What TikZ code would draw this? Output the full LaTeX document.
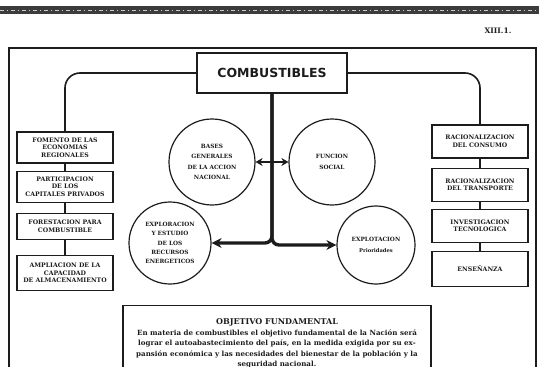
\documentclass[tikz,border=0pt]{standalone}
\usepackage{fontspec}
\setmainfont{DejaVu Serif}
\newfontfamily\ttlfont{DejaVu Sans}
\usetikzlibrary{arrows.meta, positioning}
\definecolor{cInk}{HTML}{1C1C1C}
\definecolor{cBand}{HTML}{3C3C3C}

\begin{document}
\begin{tikzpicture}[x=1pt, y=-1pt,
    nd/.style={draw=cInk, line width=1.2pt, align=center, inner sep=1pt,
               text=cInk, font=\fontsize{6.2}{7.6}\selectfont\bfseries},
    nleft/.style ={nd, minimum width=96pt, minimum height=31pt},
    nright/.style={nd, minimum width=96pt, minimum height=33pt},
    ncir/.style={nd, circle, minimum size=86pt, inner sep=0pt,
                 font=\fontsize{5.8}{10.5}\selectfont\bfseries},
    ln/.style={draw=cInk, line width=1.6pt},
    tr/.style={draw=cInk, line width=3.4pt, rounded corners=7pt,
               -{Stealth[length=10pt,width=10pt]}},
    ar/.style={draw=cInk, line width=2.6pt,
               {Stealth[length=7pt,width=8pt]}-{Stealth[length=7pt,width=8pt]}},
]
\useasboundingbox (0,0) rectangle (539,367);

% === page head: band and page number ===
\fill[cBand] (0,6) rectangle (539,14);
\draw[white!80!black, line width=0.8pt, dash pattern=on 4pt off 3pt on 1pt off 3pt] (0,10) -- (539,10);
\node[font=\fontsize{7.5}{8}\selectfont\bfseries, text=cInk] (pgno) at (498,31) {XIII.1.};

% outer frame (runs past the bottom edge)
\draw[cInk, line width=1.1pt] (9,390) -- (9,48) -- (536,48) -- (536,390);

% === TITLE ===
\node[nd, minimum width=150pt, minimum height=40pt,
      font=\ttlfont\bfseries\fontsize{12.5}{14}\selectfont] (comb) at (272,73) {COMBUSTIBLES};

% === LEFT COLUMN ===
\node[nleft] (l1) at (65,147.5) {FOMENTO DE LAS\\ECONOMIAS\\REGIONALES};
\node[nleft, below=7pt of l1] (l2) {PARTICIPACION\\DE LOS\\CAPITALES PRIVADOS};
\node[nleft, below=10pt of l2, minimum height=26pt] (l3) {FORESTACION PARA\\COMBUSTIBLE};
\node[nleft, below=15pt of l3, minimum height=35pt] (l4) {AMPLIACION DE LA\\CAPACIDAD\\DE ALMACENAMIENTO};

% === RIGHT COLUMN ===
\node[nright] (r1) at (480,141.5) {RACIONALIZACION\\DEL CONSUMO};
\node[nright, below=9pt of r1] (r2) {RACIONALIZACION\\DEL TRANSPORTE};
\node[nright, below=7pt of r2] (r3) {INVESTIGACION\\TECNOLOGICA};
\node[nright, below=8pt of r3, minimum height=35pt] (r4) {ENSEÑANZA};

\draw[ln, rounded corners=15pt] (comb.west) -| (l1.north);
\draw[ln, rounded corners=15pt] (comb.east) -| (r1.north);
\draw[ln] (l1) -- (l2);
\draw[ln] (l2) -- (l3);
\draw[ln] (l3) -- (l4);
\draw[ln] (r1) -- (r2);
\draw[ln] (r2) -- (r3);
\draw[ln] (r3) -- (r4);

% === CIRCLES ===
\node[ncir] (bases) at (212,162) {BASES\\GENERALES\\DE LA ACCION\\NACIONAL};
\node[ncir] (func) at (332,162) {FUNCION\\SOCIAL};
\node[ncir, minimum size=82pt, font=\fontsize{5.8}{9.4}\selectfont\bfseries]
    (expl) at (170,243) {EXPLORACION\\Y ESTUDIO\\DE LOS\\RECURSOS\\ENERGETICOS};
\node[ncir, minimum size=78pt, font=\fontsize{5.8}{11}\selectfont\bfseries]
    (explt) at (376,245) {EXPLOTACION\\{\fontsize{5.2}{6}\selectfont Prioridades}};

\draw[tr] (comb.south) |- (expl.east);
\draw[tr] (comb.south) |- (explt.west);
\draw[ar] (bases.east) -- (func.west);

% === OBJETIVO FUNDAMENTAL ===
\node[nd, anchor=north, minimum width=308pt, inner ysep=13pt,
      font=\fontsize{7.1}{10.2}\selectfont\bfseries] (obj) at (277,305)
    {{\fontsize{8}{10.2}\selectfont OBJETIVO FUNDAMENTAL}\\[1pt]
     En materia de combustibles el objetivo fundamental de la Nación será\\
     lograr el autoabastecimiento del país, en la medida exigida por su ex-\\
     pansión económica y las necesidades del bienestar de la población y la\\
     seguridad nacional.};

\end{tikzpicture}
\end{document}
